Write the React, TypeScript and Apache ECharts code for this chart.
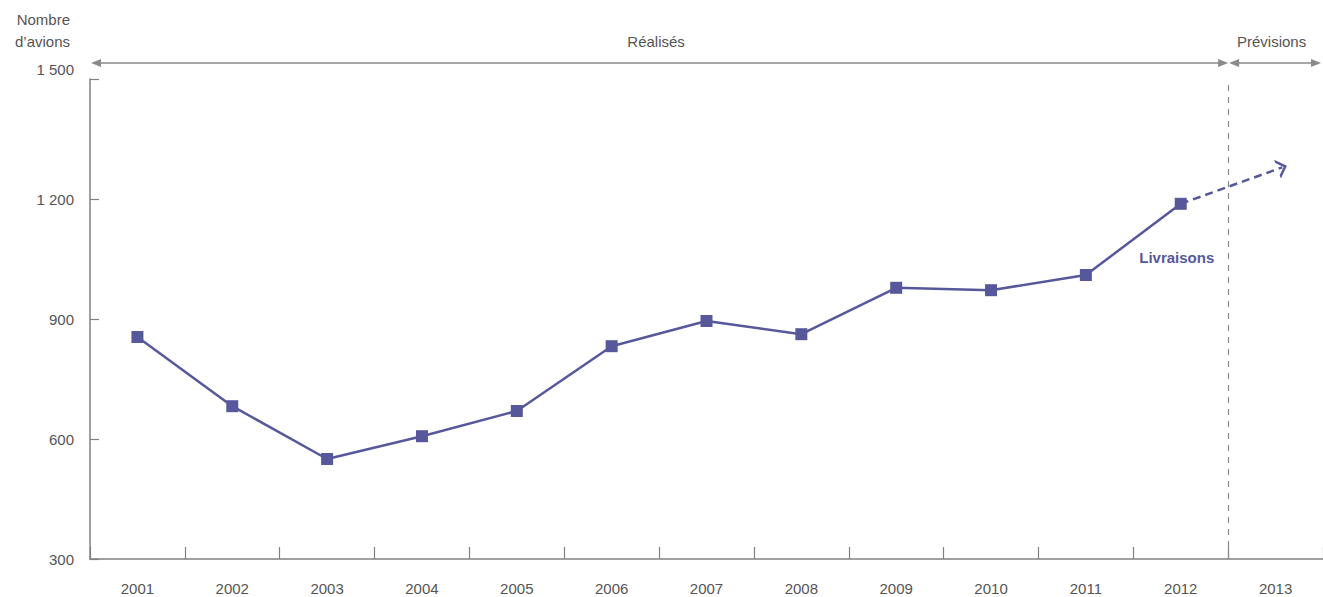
import React, { useEffect, useRef } from "react";
import * as echarts from "echarts";

// Annual aircraft deliveries (realised) and the forecast trend
const years = ["2001", "2002", "2003", "2004", "2005", "2006", "2007", "2008", "2009", "2010", "2011", "2012", "2013"];
const deliveries = [855, 682, 550, 607, 670, 832, 895, 862, 978, 972, 1010, 1188];
const seriesLabel = "Livraisons";
// forecast segment: positions on the year scale (index) and values
const forecastPos = [11, 12.07];
const forecastValues = [1188, 1279];
// split between realised and forecast years (index scale)
const splitPos = 11.5;
const periodLabels = ["Réalisés", "Prévisions"];
const yMin = 300;
const yMax = 1500;
const yStep = 300;
const yAxisTitle = "Nombre\nd’avions";

const FONT = "'Liberation Sans', Arial, Helvetica, sans-serif";
const LINE_COLOR = "#57589c";
const AXIS_COLOR = "#808080";
const TEXT_COLOR = "#555555";

const chevron = "path://M0,10 L10,0 L20,10 L16.5,10 L10,3.5 L3.5,10 Z";

function formatThousands(v: number): string {
  if (v >= 1000) {
    return `${Math.floor(v / 1000)} ${String(v % 1000).padStart(3, "0")}`;
  }
  return String(v);
}

export default function App() {
  const ref = useRef<HTMLDivElement>(null);

  useEffect(() => {
    document.body.style.margin = "0";
    if (!ref.current) return;
    const chart = echarts.init(ref.current, null, { renderer: "svg" });

    const lastIdx = deliveries.length - 1;
    const mainData = deliveries.map((v, i) =>
      i === lastIdx
        ? {
            value: v,
            label: {
              show: true,
              formatter: seriesLabel,
              position: "bottom",
              distance: 40,
              offset: [-4, 0],
              fontWeight: "bold",
              fontSize: 15,
              fontFamily: FONT,
              color: LINE_COLOR,
            },
          }
        : v
    );

    const option: any = {
      animation: false,
      textStyle: { fontFamily: FONT },
      grid: { left: 90, top: 79, width: 1239, height: 480, containLabel: false },
      xAxis: [
        {
          type: "category",
          data: years,
          boundaryGap: true,
          axisLine: { lineStyle: { color: AXIS_COLOR, width: 1.5 } },
          axisTick: { show: true, inside: true, length: 12, interval: 0, lineStyle: { color: AXIS_COLOR, width: 1.2 } },
          axisLabel: { margin: 22, fontSize: 15, color: TEXT_COLOR, fontFamily: FONT, interval: 0 },
          splitLine: { show: false },
        },
        {
          type: "value",
          min: -0.5,
          max: 12.5,
          show: false,
        },
      ],
      yAxis: {
        type: "value",
        min: yMin,
        max: yMax,
        interval: yStep,
        name: yAxisTitle,
        nameLocation: "end",
        nameGap: 27,
        nameTextStyle: {
          align: "right",
          verticalAlign: "bottom",
          padding: [0, 20, 0, 0],
          lineHeight: 22,
          fontSize: 15,
          color: TEXT_COLOR,
          fontFamily: FONT,
        },
        axisLine: { show: true, onZero: false, lineStyle: { color: AXIS_COLOR, width: 1.5 } },
        axisTick: { show: true, inside: true, length: 9, lineStyle: { color: AXIS_COLOR, width: 1.2 } },
        splitLine: { show: false },
        axisLabel: {
          margin: 16,
          fontSize: 15,
          color: TEXT_COLOR,
          fontFamily: FONT,
          formatter: (v: number) => (v === yMax ? `{top|${formatThousands(v)}}` : formatThousands(v)),
          rich: {
            top: { fontSize: 15, color: TEXT_COLOR, fontFamily: FONT, padding: [0, 0, 19, 0] },
          },
        },
      },
      series: [
        {
          name: seriesLabel,
          type: "line",
          xAxisIndex: 0,
          z: 4,
          data: mainData,
          symbol: "rect",
          symbolSize: 12,
          showSymbol: true,
          itemStyle: { color: LINE_COLOR },
          lineStyle: { color: LINE_COLOR, width: 2.5 },
        },
        {
          name: "forecast",
          type: "line",
          xAxisIndex: 1,
          z: 3,
          data: [],
          silent: true,
          markLine: {
            silent: true,
            animation: false,
            label: { show: false },
            symbol: ["none", chevron],
            symbolSize: [20, 10],
            lineStyle: { color: LINE_COLOR, width: 2.5, type: [8, 5] },
            data: [
              [
                { coord: [forecastPos[0], forecastValues[0]] },
                { coord: [forecastPos[1], forecastValues[1]] },
              ],
            ],
          },
        },
        {
          name: "split",
          type: "line",
          xAxisIndex: 1,
          z: 2,
          data: [],
          silent: true,
          markLine: {
            silent: true,
            animation: false,
            label: { show: false },
            symbol: ["none", "none"],
            lineStyle: { color: "#8a8a8a", width: 1.2, type: [6, 6] },
            data: [{ xAxis: splitPos }],
          },
        },
      ],
    };

    chart.setOption(option);

    // period arrows above the plot, placed from the axis scale
    const x0 = chart.convertToPixel({ xAxisIndex: 1 }, -0.5) as number;
    const xs = chart.convertToPixel({ xAxisIndex: 1 }, splitPos) as number;
    const x1 = chart.convertToPixel({ xAxisIndex: 1 }, 12.5) as number;
    const yTop = chart.convertToPixel({ yAxisIndex: 0 }, yMax) as number;
    const ay = yTop - 16;
    const ty = yTop - 38;
    const head = 10;
    const hh = 4;
    const gray = "#8a8a8a";
    const arrow = (a: number, b: number) => [
      { type: "line", shape: { x1: a + 2, y1: ay, x2: b - 2, y2: ay }, style: { stroke: gray, lineWidth: 1.5 }, silent: true },
      { type: "polygon", shape: { points: [[a, ay], [a + head, ay - hh], [a + head, ay + hh]] }, style: { fill: gray }, silent: true },
      { type: "polygon", shape: { points: [[b, ay], [b - head, ay - hh], [b - head, ay + hh]] }, style: { fill: gray }, silent: true },
    ];
    const graphic: any[] = [
      ...arrow(x0 + 1, xs),
      ...arrow(xs + 1, Math.min(x1 - 2, 1322)),
      {
        type: "text",
        x: (x0 + xs) / 2 - 3,
        y: ty,
        style: { text: periodLabels[0], fill: TEXT_COLOR, font: `15px ${FONT}`, align: "center", verticalAlign: "middle" },
        silent: true,
      },
      {
        type: "text",
        x: (xs + x1) / 2 - 4,
        y: ty,
        style: { text: periodLabels[1], fill: TEXT_COLOR, font: `15px ${FONT}`, align: "center", verticalAlign: "middle" },
        silent: true,
      },
    ];
    chart.setOption({ graphic });

    return () => chart.dispose();
  }, []);

  return <div ref={ref} style={{ width: 1323, height: 597 }} />;
}
